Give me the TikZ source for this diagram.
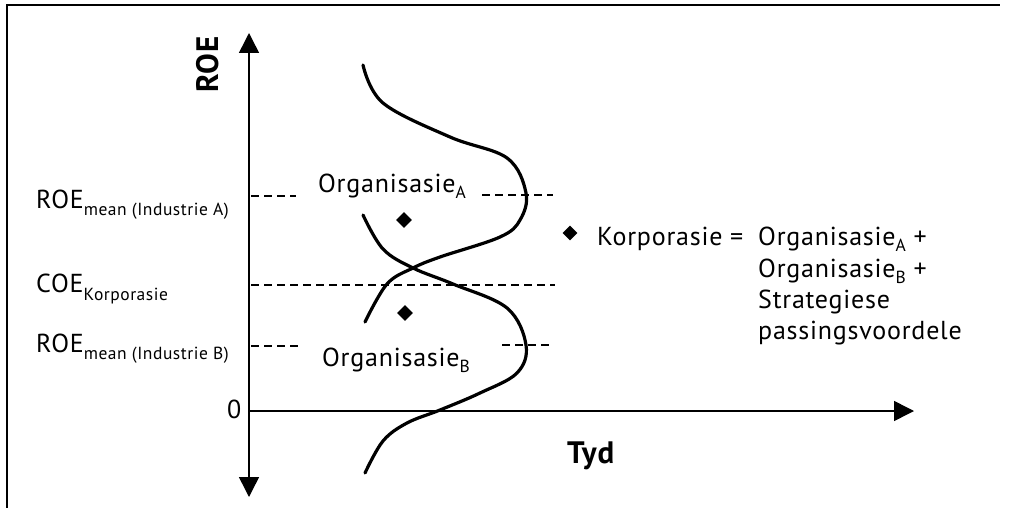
\documentclass[tikz,border=0pt]{standalone}
\usepackage{fontspec}
\setmainfont[LetterSpace=3]{PT Sans}
\usetikzlibrary{arrows.meta,shapes.geometric}
\newcommand\mysub[2][-7pt]{\raisebox{#1}{\fontsize{17.5}{19}\selectfont #2}}
\begin{document}
\begin{tikzpicture}[x=1pt,y=-1pt,
  txt/.style={inner sep=0pt, anchor=base west, font=\fontsize{26}{30}\selectfont},
  boldtxt/.style={inner sep=0pt, anchor=base west, font=\fontsize{31}{34}\selectfont\bfseries},
  axis/.style={line width=1.5pt, -{Triangle[length=20pt,width=20pt]}},
  curve/.style={line width=3.2pt, line cap=round},
  dashln/.style={line width=1.2pt, dash pattern=on 8pt off 5pt},
  gem/.style={diamond, fill=black, inner sep=0pt, minimum width=16pt, minimum height=16pt},
  frame/.style={line width=2pt}]
\useasboundingbox (0,0) rectangle (1019,508);
% frame
\coordinate (fTL) at (7,5);
\coordinate (fTR) at (1000,5);
\coordinate (fBL) at (7,508);
\draw[frame] (fBL) -- (fTL) -- (fTR);
% axes
\coordinate (o) at (249,411);
\coordinate (ytop) at (249,33);
\coordinate (ybot) at (249,497);
\coordinate (xend) at (914,411);
\draw[axis] (o) -- (ytop);
\draw[axis] (o) -- (ybot);
\draw[axis] (o) -- (xend);
% dashed levels
\coordinate (a1) at (251,196); \coordinate (a2) at (296,196);
\coordinate (a3) at (482,195); \coordinate (a4) at (553,195);
\coordinate (c1) at (251,285); \coordinate (c2) at (555,285);
\coordinate (b1) at (251,346); \coordinate (b2) at (298,346);
\coordinate (b3) at (502,345); \coordinate (b4) at (553,345);
\draw[dashln] (a1) -- (a2);
\draw[dashln] (a3) -- (a4);
\draw[dashln] (c1) -- (c2);
\draw[dashln] (b1) -- (b2);
\draw[dashln] (b3) -- (b4);
% curves
\draw[curve] plot[smooth, tension=0.6] coordinates {(363,65) (383,103) (450,137) (507,158) (526,193) (520,220) (500,237) (440,257) (413,268) (387,284) (365,322)};
\draw[curve] plot[smooth, tension=0.6] coordinates {(363,215) (383,249) (413,268) (453,284) (507,308) (526,345) (517,373) (480,393) (440,410) (407,423) (383,441) (365,473)};
% diamonds
\node[gem] (d1) at (404,220) {};
\node[gem] (d2) at (405,313) {};
\node[gem, minimum width=15pt, minimum height=15pt] (d3) at (570,233) {};
% labels
\node[txt] (roeA) at (36,208) {ROE\mysub{mean\ (Industrie\ A)}};
\node[txt] (coe) at (36,292) {COE\mysub[-8pt]{Korporasie}};
\node[txt] (roeB) at (36,352) {ROE\mysub{mean\ (Industrie\ B)}};
\node[txt] (zero) at (227,418) {0};
\node[txt] (orgA) at (318,192) {Organisasie\mysub[-6pt]{A}};
\node[txt] (orgB) at (322,366) {Organisasie\mysub[-6pt]{B}};
\node[boldtxt, rotate=90] (roe) at (218,93) {ROE};
\node[boldtxt] (tyd) at (567,463) {Tyd};
\node[txt] (korp) at (597,245) {Korporasie =};
\node[txt] (l1) at (758,245) {Organisasie\mysub[-6pt]{A} +};
\node[txt] (l2) at (758,277) {Organisasie\mysub[-6pt]{B} +};
\node[txt] (l3) at (758,308) {Strategiese};
\node[txt] (l4) at (758,339) {passingsvoordele};
\end{tikzpicture}
\end{document}
